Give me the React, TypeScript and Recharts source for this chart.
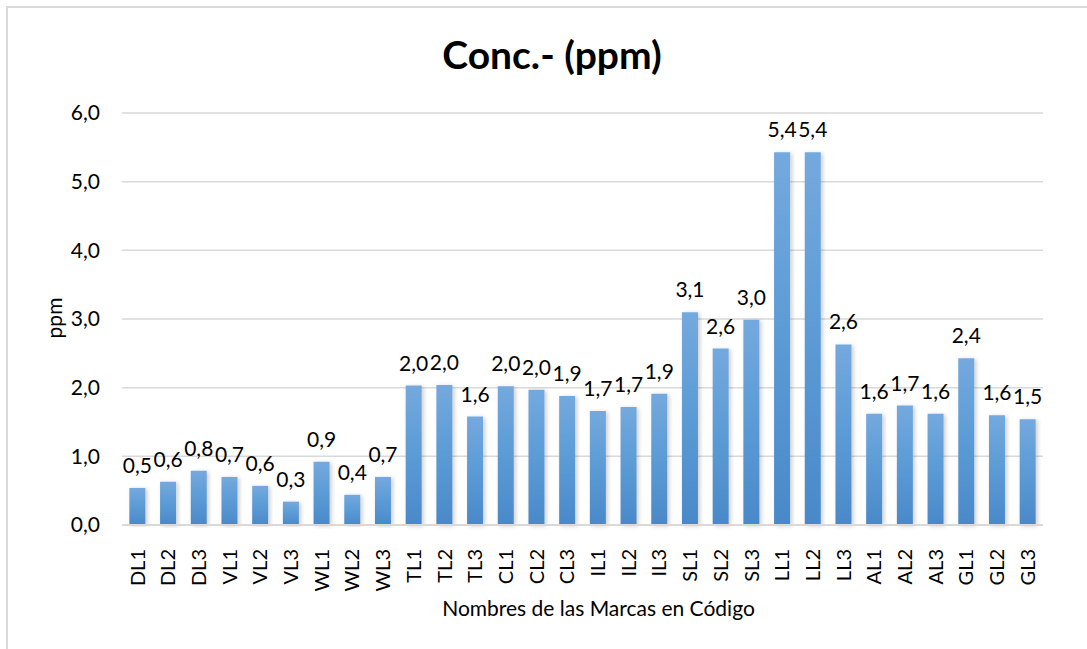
import { BarChart, Bar, XAxis, YAxis, CartesianGrid, LabelList, Label } from 'recharts'

const categories = [
  'DL1', 'DL2', 'DL3', 'VL1', 'VL2', 'VL3', 'WL1', 'WL2', 'WL3',
  'TL1', 'TL2', 'TL3', 'CL1', 'CL2', 'CL3', 'IL1', 'IL2', 'IL3',
  'SL1', 'SL2', 'SL3', 'LL1', 'LL2', 'LL3', 'AL1', 'AL2', 'AL3',
  'GL1', 'GL2', 'GL3',
]

const concentration = [
  0.54, 0.63, 0.79, 0.70, 0.57, 0.34, 0.92, 0.44, 0.70,
  2.03, 2.04, 1.58, 2.02, 1.97, 1.88, 1.66, 1.72, 1.91,
  3.10, 2.57, 2.99, 5.43, 5.43, 2.63, 1.62, 1.74, 1.62,
  2.43, 1.60, 1.54,
]

const yTicks = [0, 1, 2, 3, 4, 5, 6]

const FONT = 'Lato, "Open Sans", sans-serif'
const FS = 21

const data = categories.map((name, i) => ({ name, value: concentration[i] }))

const fmt = (v: number) => v.toFixed(1).replace('.', ',')

function XTick({ x, y, payload }: any) {
  return (
    <g transform={`translate(${x},${y + 16})`}>
      <text
        transform="rotate(-90)"
        textAnchor="end"
        dy="0.36em"
        fontSize={20}
        fill="#000"
        fontFamily={FONT}
      >
        {payload.value}
      </text>
    </g>
  )
}

export default function App() {
  return (
    <div style={{ position: 'absolute', left: 0, top: 0, width: 1087, height: 649, background: '#fff' }}>
      <div
        style={{
          position: 'absolute',
          left: 6,
          top: 6,
          right: 0,
          bottom: 0,
          borderLeft: '2px solid #d9d9d9',
          borderTop: '2px solid #d9d9d9',
        }}
      />
      <div
        style={{
          position: 'absolute',
          left: 0,
          top: 31,
          width: 1104,
          textAlign: 'center',
          fontFamily: FONT,
          fontWeight: 700,
          fontSize: 39,
          color: '#000',
        }}
      >
        Conc.- (ppm)
      </div>
      <BarChart
        width={1087}
        height={649}
        data={data}
        margin={{ top: 113, right: 44, left: 0, bottom: 0 }}
        barCategoryGap="24%"
        style={{ position: 'absolute', left: 0, top: 0 }}
      >
        <defs>
          <linearGradient id="barGrad" x1="0" y1="0" x2="0" y2="1">
            <stop offset="0%" stopColor="#74a9de" />
            <stop offset="50%" stopColor="#5b9bd5" />
            <stop offset="100%" stopColor="#4a89c9" />
          </linearGradient>
          <filter id="barShadow" x="-30%" y="-5%" width="160%" height="110%">
            <feDropShadow dx="2" dy="1" stdDeviation="2" floodColor="#000" floodOpacity="0.2" />
          </filter>
        </defs>
        <CartesianGrid vertical={false} stroke="#d9d9d9" strokeWidth={1.5} />
        <XAxis
          dataKey="name"
          interval={0}
          height={124}
          tickLine={false}
          axisLine={{ stroke: '#d9d9d9', strokeWidth: 2 }}
          tick={<XTick />}
        >
          <Label
            content={({ viewBox }: any) => (
              <text
                x={viewBox.x + viewBox.width / 2 + 16}
                y={616}
                textAnchor="middle"
                fontSize={FS}
                fontFamily={FONT}
                fill="#000"
              >
                Nombres de las Marcas en Código
              </text>
            )}
          />
        </XAxis>
        <YAxis
          width={122}
          domain={[0, 6]}
          ticks={yTicks}
          tickFormatter={fmt}
          axisLine={false}
          tickLine={false}
          tickSize={0}
          tickMargin={22}
          tick={{ fontSize: FS, fill: '#000', fontFamily: FONT }}
        >
          <Label
            content={() => (
              <text
                x={0}
                y={0}
                transform="translate(62,318) rotate(-90)"
                textAnchor="middle"
                fontSize={FS}
                fontFamily={FONT}
                fill="#000"
              >
                ppm
              </text>
            )}
          />
        </YAxis>
        <Bar dataKey="value" fill="url(#barGrad)" filter="url(#barShadow)" isAnimationActive={false}>
          <LabelList
            dataKey="value"
            position="top"
            offset={15}
            formatter={(v: any) => fmt(Number(v))}
            style={{ fontSize: FS, fill: '#000', fontFamily: FONT }}
          />
        </Bar>
      </BarChart>
    </div>
  )
}
